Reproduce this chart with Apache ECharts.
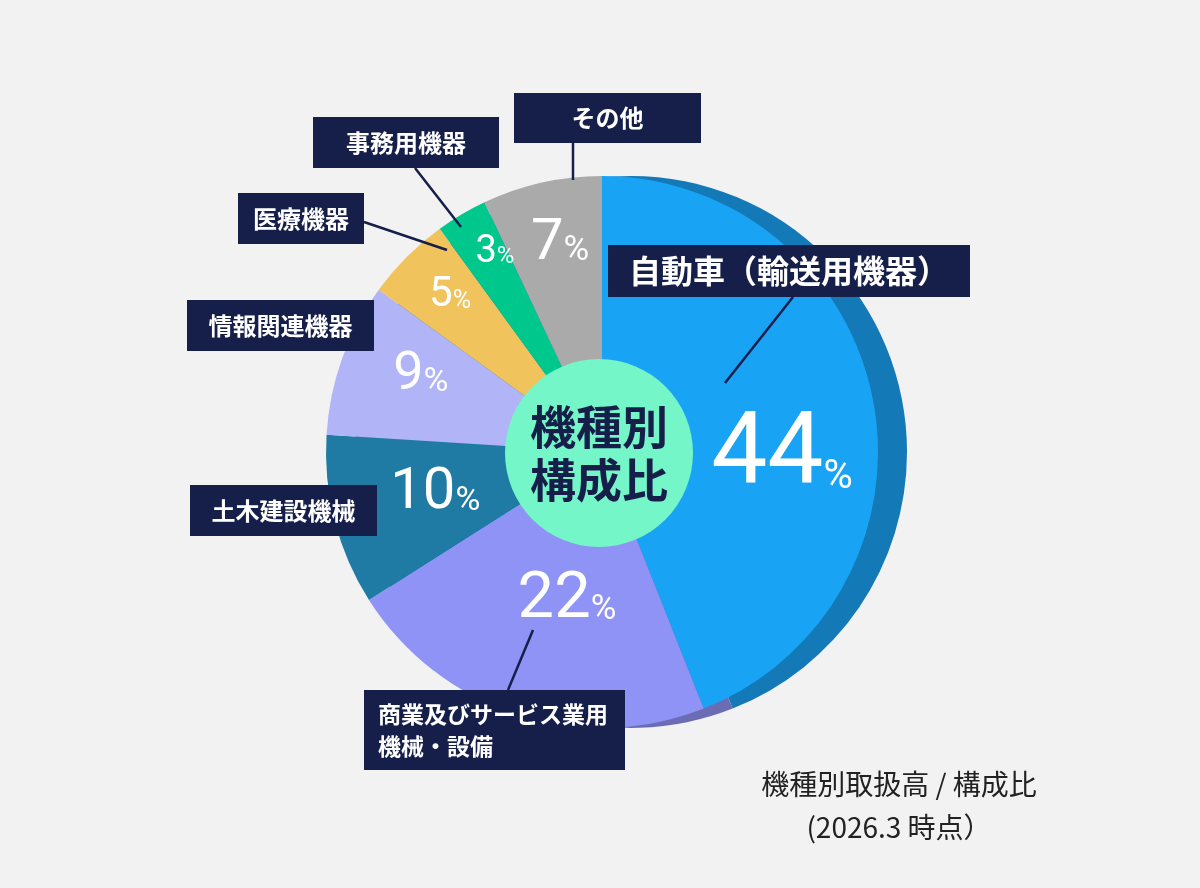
<!DOCTYPE html>
<html>
<head>
<meta charset="utf-8">
<script src="https://cdn.jsdelivr.net/npm/echarts@6/dist/echarts.min.js"></script>
<style>
html,body{margin:0;padding:0;background:#f2f2f2;}
#c{width:1200px;height:888px;}
</style>
</head>
<body>
<div id="c"></div>
<script>
// ---- data ----
const categories = ['自動車（輸送用機器）', '商業及びサービス業用\n機械・設備', '土木建設機械', '情報関連機器', '医療機器', '事務用機器', 'その他'];
const shares = [44, 22, 10, 9, 5, 3, 7];
const hubTitle = '機種別\n構成比';
const footnote = '機種別取扱高 / 構成比\n(2026.3 時点）';

// ---- styling / layout ----
const CJK = "'Noto Sans CJK JP', 'Noto Sans', sans-serif";
const NUM = "Roboto, 'Noto Sans', sans-serif";
const NAVY = '#161e4a';
const sliceColors = ['#19a3f5', '#8f93f5', '#1f7ba3', '#b1b4f6', '#f1c35d', '#00c88c', '#aaaaaa'];
const sideColors = ['#1379b7', '#6b6db4', '#1379b7', '#1379b7', '#1379b7', '#1379b7', '#1379b7'];
const PIE = { cx: 602, cy: 452, r: 276 };
const SIDE_SHIFT = 29;
const HUB = { cx: 599, cy: 453, r: 94 };
// per slice: [number font, % font, label radius, angle tweak]
const pctStyle = [[100, 40, 180, -10.5], [65, 35, 148, 4.3], [58, 34, 171, -1.6], [54, 34, 198, -4], [42, 25, 220, -1.3], [38, 24, 229, -2.7], [58, 35, 216, -1.4]];
// callout boxes: [left, top, width, height, fontSize]
const calloutBox = [[608, 245, 362, 52, 32], [364, 690, 261, 80, 23], [190, 485, 187, 51, 24], [187, 300, 187, 51, 24], [238, 193, 126, 51, 24], [313, 117, 186, 51, 24], [514, 93, 187, 50, 24]];
const calloutLine = [[[725, 383], [793, 297]], [[533, 630], [508, 690]], null, null, [[447, 250], [364, 222]], [[461, 227], [415, 168]], [[573, 180], [573, 143]]];

const total = shares.reduce((a, b) => a + b, 0);
function midAngle(i) {
  let c = 0;
  for (let k = 0; k < i; k++) c += shares[k];
  return 90 - 360 * (c + shares[i] / 2) / total;
}

const rich = {};
pctStyle.forEach((s, i) => {
  rich['n' + i] = { fontFamily: NUM, fontSize: s[0], lineHeight: s[0], color: '#fff' };
  rich['p' + i] = { fontFamily: NUM, fontSize: s[1], lineHeight: s[1], color: '#fff', verticalAlign: 'bottom', padding: [0, 0, Math.round(0.17 * (s[0] - s[1])), 0] };
});

const chart = echarts.init(document.getElementById('c'), null, { renderer: 'canvas' });

const option = {
  backgroundColor: '#f2f2f2',
  animation: false,
  graphic: [{
    type: 'text', x: 899, y: 806,
    style: { text: footnote, fill: '#222', fontSize: 28, fontFamily: CJK, align: 'center', verticalAlign: 'middle', textAlign: 'center', textVerticalAlign: 'middle', lineHeight: 43 }
  }],
  series: [
    {
      type: 'pie', z: 1, silent: true, startAngle: 90,
      center: [PIE.cx + SIDE_SHIFT, PIE.cy], radius: [0, PIE.r],
      label: { show: false }, labelLine: { show: false },
      itemStyle: { borderWidth: 0 },
      data: shares.map((v, i) => ({ value: v, name: categories[i], itemStyle: { color: sideColors[i] } }))
    },
    {
      type: 'pie', z: 2, silent: true, startAngle: 90, avoidLabelOverlap: false,
      center: [PIE.cx, PIE.cy], radius: [0, PIE.r],
      itemStyle: { borderWidth: 0 },
      label: {
        show: true, position: 'inside',
        formatter: p => `{n${p.dataIndex}|${p.value}}{p${p.dataIndex}|%}`,
        rich: rich
      },
      labelLine: { show: false },
      labelLayout: p => {
        const i = p.dataIndex, s = pctStyle[i];
        const a = (midAngle(i) + s[3]) * Math.PI / 180;
        return { x: PIE.cx + s[2] * Math.cos(a), y: PIE.cy - s[2] * Math.sin(a) + 0.07 * s[0], align: 'center', verticalAlign: 'middle' };
      },
      data: shares.map((v, i) => ({ value: v, name: categories[i], itemStyle: { color: sliceColors[i] } }))
    },
    {
      type: 'pie', z: 3, silent: true, startAngle: 90, avoidLabelOverlap: false,
      center: [PIE.cx, PIE.cy], radius: [0, PIE.r],
      itemStyle: { color: 'rgba(0,0,0,0)', borderWidth: 0 },
      label: {
        show: true, position: 'outside', formatter: '{b}', color: '#fff',
        fontFamily: CJK, fontWeight: 'bold', backgroundColor: NAVY, overflow: 'none'
      },
      labelLine: { show: true, length: 5, length2: 5, smooth: false, lineStyle: { color: NAVY, width: 2.5 } },
      labelLayout: p => {
        const i = p.dataIndex, b = calloutBox[i];
        const leftAligned = i === 1;
        const out = {
          x: leftAligned ? b[0] : b[0] + b[2] / 2,
          y: b[1] + b[3] / 2,
          align: leftAligned ? 'left' : 'center',
          verticalAlign: 'middle'
        };
        if (calloutLine[i]) {
          const s = calloutLine[i][0], e = calloutLine[i][1];
          out.labelLinePoints = [s, [(s[0] + e[0]) / 2, (s[1] + e[1]) / 2], e];
        }
        return out;
      },
      data: shares.map((v, i) => {
        const b = calloutBox[i];
        const two = i === 1;
        return {
          value: v, name: categories[i],
          label: {
            fontSize: b[4],
            width: two ? b[2] - 28 : b[2],
            height: two ? b[3] - 16 : b[3],
            lineHeight: two ? 32 : b[3],
            padding: two ? [8, 14] : 0,
            align: two ? 'left' : 'center'
          },
          labelLine: { show: !!calloutLine[i] }
        };
      })
    },
    {
      type: 'pie', z: 4, silent: true,
      center: [HUB.cx, HUB.cy], radius: [0, HUB.r],
      itemStyle: { color: '#74f6c8', borderWidth: 0 },
      label: { show: true, position: 'center', formatter: '{b}', fontFamily: CJK, fontSize: 46, fontWeight: 'bold', color: NAVY, lineHeight: 53 },
      labelLine: { show: false },
      data: [{ value: 1, name: hubTitle }]
    }
  ]
};
chart.setOption(option);
</script>
</body>
</html>
